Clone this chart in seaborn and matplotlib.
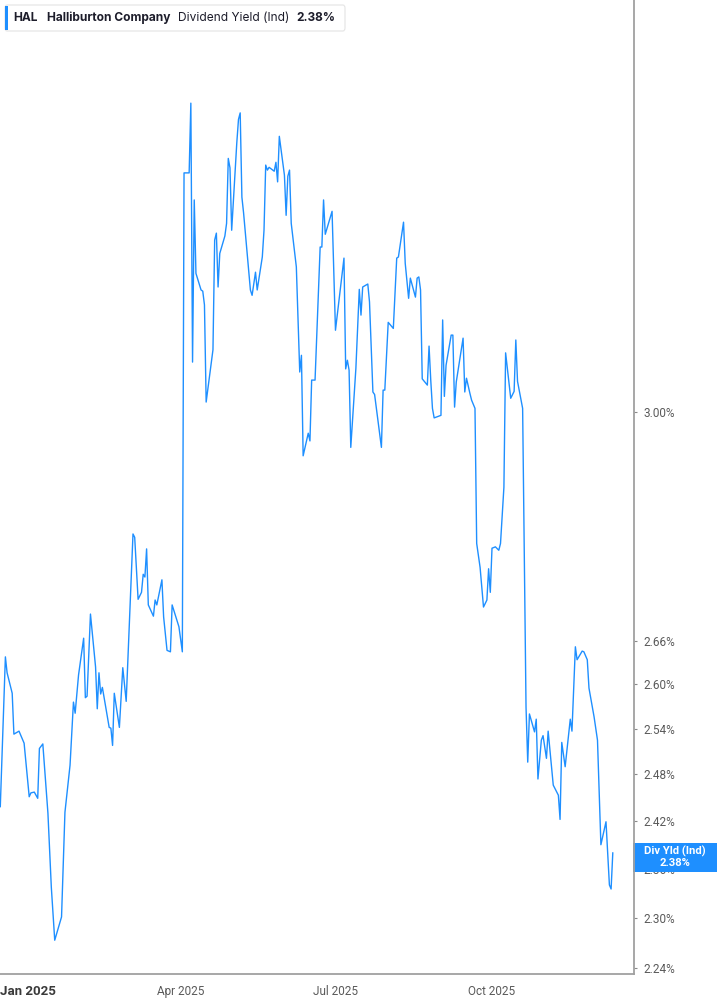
import numpy as np
import pandas as pd
import matplotlib
matplotlib.use("Agg")
import matplotlib.pyplot as plt
import matplotlib.ticker as mticker
from matplotlib.patches import FancyBboxPatch, Rectangle
import seaborn as sns

# Dividend yield (Ind) of HAL (percent)
dates = [
    "2024-12-16", "2024-12-19", "2024-12-20", "2024-12-23", "2024-12-24", "2024-12-27", "2024-12-30",
    "2025-01-02", "2025-01-03", "2025-01-05", "2025-01-07", "2025-01-08", "2025-01-10", "2025-01-13",
    "2025-01-15", "2025-01-17", "2025-01-21", "2025-01-23", "2025-01-26", "2025-01-28", "2025-01-29", "2025-01-31",
    "2025-02-03", "2025-02-04", "2025-02-05", "2025-02-07", "2025-02-10", "2025-02-11", "2025-02-12", "2025-02-13",
    "2025-02-14", "2025-02-18", "2025-02-19", "2025-02-20", "2025-02-21", "2025-02-24", "2025-02-26", "2025-02-28",
    "2025-03-01", "2025-03-04", "2025-03-05", "2025-03-07", "2025-03-09", "2025-03-10", "2025-03-11", "2025-03-12",
    "2025-03-13", "2025-03-16", "2025-03-17", "2025-03-18", "2025-03-21", "2025-03-22", "2025-03-24", "2025-03-26",
    "2025-03-27", "2025-03-31",
    "2025-04-02", "2025-04-03", "2025-04-06", "2025-04-07", "2025-04-08", "2025-04-09", "2025-04-10", "2025-04-13",
    "2025-04-14", "2025-04-15", "2025-04-16", "2025-04-20", "2025-04-21", "2025-04-22", "2025-04-23", "2025-04-24",
    "2025-04-27", "2025-04-28", "2025-04-29", "2025-04-30",
    "2025-05-01", "2025-05-04", "2025-05-05", "2025-05-06", "2025-05-07", "2025-05-08", "2025-05-12", "2025-05-13",
    "2025-05-15", "2025-05-16", "2025-05-19", "2025-05-20", "2025-05-21", "2025-05-22", "2025-05-23", "2025-05-26",
    "2025-05-27", "2025-05-28", "2025-05-29",
    "2025-06-01", "2025-06-02", "2025-06-03", "2025-06-04", "2025-06-05", "2025-06-08", "2025-06-10", "2025-06-11",
    "2025-06-12", "2025-06-15", "2025-06-16", "2025-06-17", "2025-06-19", "2025-06-22", "2025-06-23", "2025-06-24",
    "2025-06-25", "2025-06-29",
    "2025-07-01", "2025-07-06", "2025-07-07", "2025-07-08", "2025-07-09", "2025-07-10", "2025-07-13", "2025-07-15",
    "2025-07-16", "2025-07-17", "2025-07-20", "2025-07-21", "2025-07-23", "2025-07-24", "2025-07-28", "2025-07-29",
    "2025-07-30",
    "2025-08-01", "2025-08-04", "2025-08-06", "2025-08-07", "2025-08-10", "2025-08-11", "2025-08-13", "2025-08-14",
    "2025-08-17", "2025-08-18", "2025-08-19", "2025-08-20", "2025-08-21", "2025-08-24", "2025-08-25", "2025-08-26",
    "2025-08-27", "2025-08-28",
    "2025-09-01", "2025-09-02", "2025-09-03", "2025-09-04", "2025-09-07", "2025-09-08", "2025-09-09", "2025-09-10",
    "2025-09-14", "2025-09-15", "2025-09-16", "2025-09-18", "2025-09-19", "2025-09-21", "2025-09-22", "2025-09-24",
    "2025-09-26", "2025-09-28", "2025-09-29", "2025-09-30",
    "2025-10-01", "2025-10-03", "2025-10-05", "2025-10-06", "2025-10-08", "2025-10-09", "2025-10-12", "2025-10-14",
    "2025-10-15", "2025-10-16", "2025-10-19", "2025-10-21", "2025-10-22", "2025-10-23", "2025-10-26", "2025-10-27",
    "2025-10-28", "2025-10-30", "2025-10-31",
    "2025-11-02", "2025-11-03", "2025-11-06", "2025-11-09", "2025-11-10", "2025-11-11", "2025-11-13", "2025-11-16",
    "2025-11-17", "2025-11-19", "2025-11-20", "2025-11-23", "2025-11-24", "2025-11-26", "2025-11-27", "2025-11-30",
    "2025-12-02", "2025-12-04", "2025-12-07", "2025-12-09", "2025-12-10", "2025-12-11",
]

values = [
    2.438, 2.638, 2.616, 2.588, 2.533, 2.537, 2.521,
    2.451, 2.456, 2.457, 2.449, 2.514, 2.520, 2.430, 2.337, 2.273, 2.301, 2.431, 2.492, 2.576, 2.561, 2.613,
    2.664, 2.582, 2.584, 2.698, 2.624, 2.567, 2.616, 2.587, 2.596, 2.542, 2.541, 2.518, 2.588, 2.542, 2.623, 2.577,
    2.634, 2.814, 2.809, 2.719, 2.729, 2.755, 2.751, 2.792, 2.711, 2.695, 2.718, 2.711, 2.747, 2.694, 2.647, 2.645,
    2.711, 2.680,
    2.645, 3.402, 3.402, 3.529, 3.080, 3.354, 3.227, 3.199, 3.197, 3.174, 3.016, 3.100, 3.284, 3.296, 3.204, 3.261,
    3.291, 3.313, 3.428, 3.411,
    3.301, 3.456, 3.499, 3.511, 3.359, 3.331, 3.199, 3.190, 3.229, 3.199, 3.255, 3.301, 3.416, 3.407, 3.412, 3.405,
    3.421, 3.386, 3.468,
    3.398, 3.327, 3.396, 3.407, 3.313, 3.238, 3.064, 3.091, 2.932, 2.967, 2.955, 3.051, 3.051, 3.272, 3.272, 3.354,
    3.294, 3.334,
    3.132, 3.253, 3.069, 3.083, 3.067, 2.945, 3.070, 3.200, 3.157, 3.204, 3.209, 3.179, 3.032, 3.028, 2.945, 3.035,
    3.035,
    3.145, 3.135, 3.253, 3.255, 3.315, 3.244, 3.185, 3.219, 3.187, 3.219, 3.221, 3.199, 3.053, 3.043, 3.106, 3.051,
    3.006, 2.991,
    2.995, 3.149, 3.025, 3.075, 3.124, 3.124, 3.008, 3.048, 3.119, 3.032, 3.054, 3.030, 3.019, 3.006, 2.800, 2.765,
    2.708, 2.718, 2.763, 2.729,
    2.793, 2.795, 2.790, 2.800, 2.884, 3.095, 3.022, 3.033, 3.116, 3.049, 3.006, 2.569, 2.496, 2.560, 2.536, 2.553,
    2.474, 2.525, 2.531,
    2.501, 2.537, 2.466, 2.453, 2.422, 2.522, 2.490, 2.553, 2.537, 2.652, 2.634, 2.646, 2.645, 2.634, 2.595, 2.556,
    2.525, 2.390, 2.419, 2.340, 2.335, 2.380,
]

ytick_vals = [2.24, 2.30, 2.36, 2.42, 2.48, 2.54, 2.60, 2.66, 3.00]
xtick_dates = ["2025-01-01", "2025-04-01", "2025-07-01", "2025-10-01"]
xtick_labels = ["Jan 2025", "Apr 2025", "Jul 2025", "Oct 2025"]

ticker_name = "HAL"
company = "Halliburton Company"
metric = "Dividend Yield (Ind)"

blue = "#1e8fff"
W, H = 717, 1005

df = pd.DataFrame({"date": pd.to_datetime(dates), "yield": values})

sns.set_style("white")
plt.rcParams["font.family"] = ["Roboto", "DejaVu Sans"]

fig = plt.figure(figsize=(W / 100, H / 100), dpi=100)
ax = fig.add_axes([0, 31 / H, 634 / W, 974 / H])

sns.lineplot(data=df, x="date", y="yield", ax=ax, color=blue, linewidth=1.0)

ax.set_yscale("log")
ax.set_ylim(2.233, 3.7256)
ax.set_xlim(pd.Timestamp("2024-12-15 20:00"), pd.Timestamp("2025-12-23 11:00"))

# axes frame: only bottom + right
for side in ["left", "top"]:
    ax.spines[side].set_visible(False)
for side in ["right", "bottom"]:
    ax.spines[side].set_color("#a0a0a0")
    ax.spines[side].set_linewidth(1.3)

ax.yaxis.tick_right()
ax.yaxis.set_major_locator(mticker.FixedLocator(ytick_vals))
ax.yaxis.set_minor_locator(mticker.NullLocator())
ax.yaxis.set_major_formatter(mticker.FuncFormatter(lambda v, p: f"{v:.2f}%"))
ax.tick_params(axis="y", length=2.5, width=0.8, colors="#8a8a8a", pad=4,
               labelsize=8.5, labelcolor="#5a5a5a")

ax.set_xticks(pd.to_datetime(xtick_dates))
ax.set_xticklabels(xtick_labels)
ax.tick_params(axis="x", length=4, width=0.8, colors="#a0a0a0", pad=4,
               labelsize=8.5, labelcolor="#5a5a5a")
for lab in ax.get_xticklabels():
    if lab.get_text().startswith("Jan"):
        lab.set_fontweight("bold")
        lab.set_color("#3a3a3a")
        lab.set_fontsize(9.5)

ax.set_xlabel("")
ax.set_ylabel("")
ax.grid(False)

# header legend box
fig.add_artist(FancyBboxPatch((5 / W, 1 - 31 / H), 340 / W, 26 / H,
                              boxstyle="round,pad=0,rounding_size=0.003",
                              transform=fig.transFigure, fc="white", ec="#e4e4e4", lw=0.8))
fig.add_artist(Rectangle((5 / W, 1 - 30 / H), 3 / W, 24 / H,
                         transform=fig.transFigure, fc=blue, ec="none"))
hy = 1 - 18 / H
hdr = dict(family=["Inter", "DejaVu Sans"], fontsize=8.6, color="#1d1d2b", va="center")
fig.text(13 / W, hy, ticker_name, fontweight="bold", **hdr)
fig.text(47 / W, hy, company, fontweight="bold", **hdr)
fig.text(178 / W, hy, metric, fontweight="normal", **hdr)
fig.text(296 / W, hy, f"{values[-1]:.2f}%", fontweight="bold", **hdr)

# last value tag on the right axis (sits over the 2.36% label, as in the source)
tag = Rectangle((633 / W, 1 - 872 / H), 84 / W, 29 / H, transform=fig.transFigure,
                fc=blue, ec="none", zorder=2.2, clip_on=False)
ax.add_patch(tag)
ax.text(675 / W, 1 - 851 / H, "Div Yld (Ind)", transform=fig.transFigure, ha="center", va="center",
        color="white", fontweight="bold", fontsize=8.1, zorder=3, clip_on=False)
ax.text(675 / W, 1 - 862.5 / H, f"{values[-1]:.2f}%", transform=fig.transFigure, ha="center", va="center",
        color="white", fontweight="bold", fontsize=8.1, zorder=3, clip_on=False)

fig.savefig("out.png", dpi=100)
